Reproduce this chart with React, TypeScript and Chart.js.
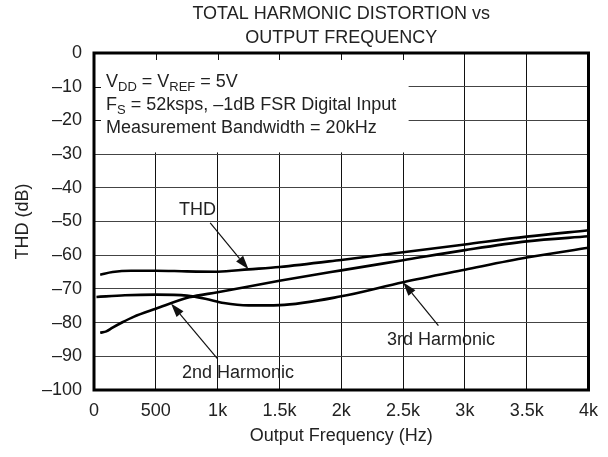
import { useEffect, useRef } from "react";
import { Chart, registerables } from "chart.js";

Chart.register(...registerables);

// Output frequency (Hz) and distortion (dB) for each trace
const thdFreq = [50, 150, 300, 500, 750, 1000, 1250, 1500, 2000, 2500, 3000, 3500, 4000];
const thdValues = [-65.8, -65.0, -64.6, -64.6, -64.8, -64.9, -64.2, -63.5, -61.4, -59.1, -56.8, -54.5, -52.6];

const secondFreq = [50, 100, 150, 230, 320, 500, 770, 1000, 1500, 2000, 2500, 3000, 3500, 4000];
const secondValues = [-83.0, -82.6, -81.5, -79.9, -78.3, -75.9, -72.5, -71.0, -67.6, -64.5, -61.5, -58.5, -55.9, -54.4];

const thirdFreq = [20, 250, 500, 750, 900, 1050, 1250, 1500, 2000, 2500, 3000, 3500, 4000];
const thirdValues = [-72.4, -71.9, -71.7, -72.0, -72.9, -74.2, -74.9, -74.8, -72.2, -68.0, -64.3, -60.7, -57.8];

const titleLines = ["TOTAL HARMONIC DISTORTION vs", "OUTPUT FREQUENCY"];
const xAxisTitle = "Output Frequency (Hz)";
const yAxisTitle = "THD (dB)";

const FONT = "'Liberation Sans', Arial, Helvetica, sans-serif";
const TEXT = "#222";

type Seg = { t: string; sub?: boolean };

function drawRich(ctx: CanvasRenderingContext2D, segs: Seg[], x: number, y: number) {
  let cx = x;
  for (const s of segs) {
    ctx.font = s.sub ? `13px ${FONT}` : `18px ${FONT}`;
    ctx.fillText(s.t, cx, s.sub ? y + 4 : y);
    cx += ctx.measureText(s.t).width;
  }
}

function arrow(ctx: CanvasRenderingContext2D, x0: number, y0: number, x1: number, y1: number) {
  const ang = Math.atan2(y1 - y0, x1 - x0);
  const len = 14;
  const hw = 4.5;
  const bx = x1 - len * Math.cos(ang);
  const by = y1 - len * Math.sin(ang);
  ctx.save();
  ctx.strokeStyle = "#111";
  ctx.fillStyle = "#111";
  ctx.lineWidth = 1.2;
  ctx.beginPath();
  ctx.moveTo(x0, y0);
  ctx.lineTo(bx, by);
  ctx.stroke();
  ctx.beginPath();
  ctx.moveTo(x1, y1);
  ctx.lineTo(bx + hw * Math.sin(ang), by - hw * Math.cos(ang));
  ctx.lineTo(bx - hw * Math.sin(ang), by + hw * Math.cos(ang));
  ctx.closePath();
  ctx.fill();
  ctx.restore();
}

const decorations = {
  id: "decorations",
  beforeDatasetsDraw(chart: any) {
    const { ctx, chartArea: a, scales } = chart;
    const xs = scales.x;
    const ys = scales.y;
    // white panel behind the test-condition notes
    const right = xs.getPixelForValue(2545);
    const bottom = ys.getPixelForValue(-29.5);
    ctx.save();
    ctx.fillStyle = "#fff";
    ctx.fillRect(a.left, a.top, right - a.left, bottom - a.top);
    // short inner ticks along the frame under the panel
    ctx.strokeStyle = "#111";
    ctx.lineWidth = 1;
    for (let f = 500; f <= 2500; f += 500) {
      const px = Math.round(xs.getPixelForValue(f)) + 0.5;
      ctx.beginPath();
      ctx.moveTo(px, a.top);
      ctx.lineTo(px, a.top + 7);
      ctx.stroke();
    }
    for (let v = -10; v >= -20; v -= 10) {
      const py = Math.round(ys.getPixelForValue(v)) + 0.5;
      ctx.beginPath();
      ctx.moveTo(a.left, py);
      ctx.lineTo(a.left + 7, py);
      ctx.stroke();
    }
    // notes
    ctx.fillStyle = TEXT;
    ctx.textBaseline = "alphabetic";
    ctx.textAlign = "left";
    const tx = a.left + 12;
    drawRich(ctx, [{ t: "V" }, { t: "DD", sub: true }, { t: " = V" }, { t: "REF", sub: true }, { t: " = 5V" }], tx, 87);
    drawRich(ctx, [{ t: "F" }, { t: "S", sub: true }, { t: " = 52ksps, \u20131dB FSR Digital Input" }], tx, 110);
    drawRich(ctx, [{ t: "Measurement Bandwidth = 20kHz" }], tx, 133);
    ctx.restore();
  },
  afterDraw(chart: any) {
    const { ctx, chartArea: a, scales } = chart;
    const xs = scales.x;
    const ys = scales.y;
    ctx.save();
    // frame
    ctx.strokeStyle = "#000";
    ctx.lineWidth = 3;
    ctx.strokeRect(a.left, a.top, a.right - a.left, a.bottom - a.top);

    // titles
    ctx.fillStyle = TEXT;
    ctx.font = `18px ${FONT}`;
    ctx.textAlign = "center";
    ctx.textBaseline = "middle";
    const cx = (a.left + a.right) / 2;
    ctx.fillText(titleLines[0], cx, 14);
    ctx.fillText(titleLines[1], cx, 38);
    ctx.fillText(xAxisTitle, cx, 436);
    ctx.save();
    ctx.translate(23, (a.top + a.bottom) / 2);
    ctx.rotate(-Math.PI / 2);
    ctx.fillText(yAxisTitle, 0, 0);
    ctx.restore();

    // trace labels with pointers
    ctx.textAlign = "left";
    ctx.fillText("THD", 179, 210);
    ctx.fillText("2nd Harmonic", 182, 373);
    ctx.fillText("3rd Harmonic", 387, 340);
    arrow(ctx, xs.getPixelForValue(940), ys.getPixelForValue(-50.4), xs.getPixelForValue(1250), ys.getPixelForValue(-64.2));
    arrow(ctx, xs.getPixelForValue(998), ys.getPixelForValue(-90.7), xs.getPixelForValue(623), ys.getPixelForValue(-74.3));
    arrow(ctx, xs.getPixelForValue(2786), ys.getPixelForValue(-80.9), xs.getPixelForValue(2500), ys.getPixelForValue(-68.0));
    ctx.restore();
  },
};

function toPoints(xs: number[], ys: number[]) {
  return xs.map((x, i) => ({ x, y: ys[i] }));
}

export default function App() {
  const ref = useRef<HTMLCanvasElement>(null);

  useEffect(() => {
    if (!ref.current) return;
    const line = {
      borderColor: "#000",
      borderWidth: 2.6,
      pointRadius: 0,
      fill: false,
      cubicInterpolationMode: "monotone" as const,
    };
    const chart = new Chart(ref.current, {
      type: "line",
      data: {
        datasets: [
          { label: "THD", data: toPoints(thdFreq, thdValues), ...line },
          { label: "2nd Harmonic", data: toPoints(secondFreq, secondValues), ...line },
          { label: "3rd Harmonic", data: toPoints(thirdFreq, thirdValues), ...line },
        ],
      },
      options: {
        responsive: false,
        animation: false,
        devicePixelRatio: 1,
        layout: { padding: { top: 53, right: 18, left: 0, bottom: 0 } },
        plugins: { legend: { display: false }, tooltip: { enabled: false } },
        font: { family: FONT, size: 18 },
        scales: {
          x: {
            type: "linear",
            min: 0,
            max: 4000,
            afterFit: (s: any) => {
              s.height = 67;
            },
            ticks: {
              stepSize: 500,
              padding: 10,
              color: TEXT,
              font: { family: FONT, size: 18 },
              maxRotation: 0,
              callback: (v: any) => {
                const n = Number(v);
                if (n === 0) return "0";
                if (n < 1000) return String(n);
                return `${n / 1000}k`;
              },
            },
            grid: { color: "#111", lineWidth: 1, drawTicks: false },
            border: { display: false },
          },
          y: {
            min: -100,
            max: 0,
            afterFit: (s: any) => {
              s.width = 94;
            },
            ticks: {
              stepSize: 10,
              padding: 12,
              color: TEXT,
              font: { family: FONT, size: 18 },
              callback: (v: any) => {
                const n = Number(v);
                return n === 0 ? "0" : `\u2013${Math.abs(n)}`;
              },
            },
            grid: { color: "#444", lineWidth: 1, drawTicks: false },
            border: { display: false },
          },
        },
      } as any,
      plugins: [decorations],
    });
    return () => chart.destroy();
  }, []);

  return (
    <div style={{ position: "absolute", left: 0, top: 0, width: 608, height: 457, background: "#fff" }}>
      <canvas ref={ref} width={608} height={457} />
    </div>
  );
}
